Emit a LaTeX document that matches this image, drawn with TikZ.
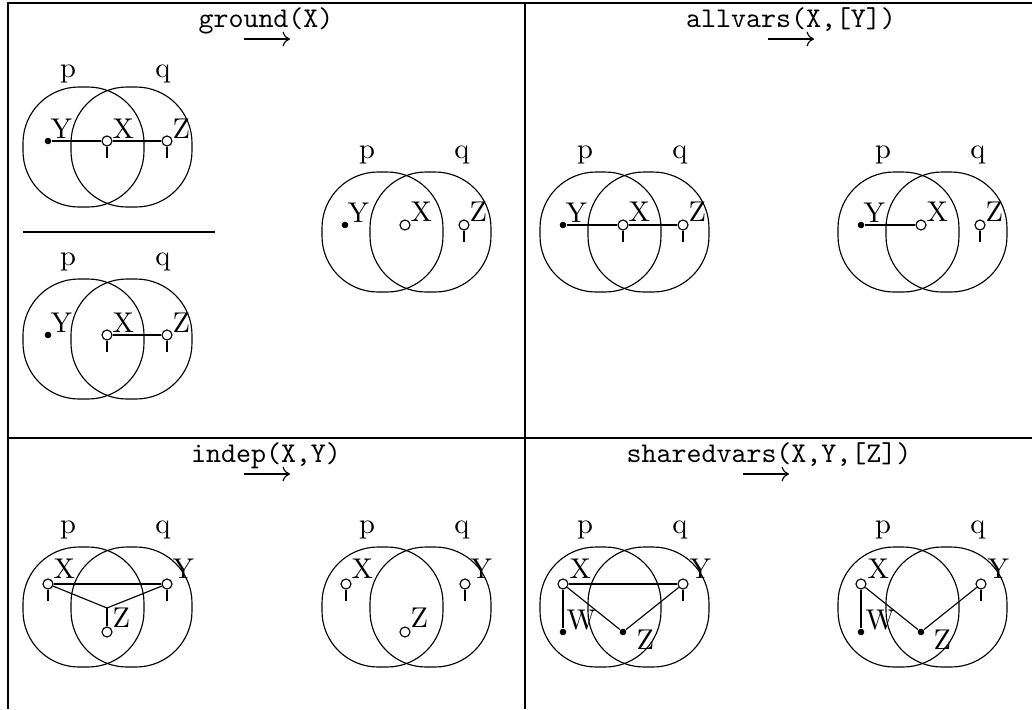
\documentclass[tikz,border=0pt]{standalone}
\usetikzlibrary{calc,arrows.meta}
\tikzset{
  setshape/.style={draw, rounded corners=19.6pt},
  opn/.style={circle, draw, fill=white, inner sep=0pt, minimum size=3.5pt},
  fil/.style={circle, fill=black, inner sep=0pt, minimum size=2.3pt},
  lbl/.style={anchor=base west, inner sep=0pt},
  setlbl/.style={anchor=base, inner sep=0pt},
  ttl/.style={anchor=base, inner sep=0pt, font=\ttfamily},
  ruleto/.style={-{Computer Modern Rightarrow[length=2.6pt,width=5.2pt]}},
  frame/.style={draw, line width=0.4pt},
}
% #1 prefix, #2 left, #3 top, #4 label gap
\newcommand\vennpair[4]{%
  \draw[setshape] (#2,#3) rectangle ++(121,120);
  \draw[setshape] (#2+48,#3) rectangle ++(121,120);
  \node[setlbl] (#1p) at (#2+45,#3-#4) {p};
  \node[setlbl] (#1q) at (#2+140,#3-#4) {q};
}
\newcommand\tailof[1]{\draw (#1.south) -- ++(0,11.5);}
% #1 name, #2 centre x, #3 y
\newcommand\rulearrow[3]{%
  \coordinate (#1s) at (#2-23,#3);
  \coordinate (#1e) at (#2+23,#3);
  \draw[ruleto] (#1s) -- (#1e);
}
\begin{document}
\begin{tikzpicture}[x=0.35pt,y=-0.35pt]
\useasboundingbox (0,0) rectangle (1032,709);
% frame
\draw[frame] (8,709) -- (8,3) -- (1032,3);
\draw[frame] (525,3) -- (525,709);
\draw[frame] (8,438) -- (1032,438);
% titles
\node[ttl] (t1) at (266,27) {ground(X)};
\rulearrow{t1a}{267}{39}
\node[ttl] (t2) at (791,27) {allvars(X,[Y])};
\rulearrow{t2a}{791}{39}
\node[ttl] (t3) at (266,462) {indep(X,Y)};
\rulearrow{t3a}{267}{474}
\node[ttl] (t4) at (769,462) {sharedvars(X,Y,[Z])};
\rulearrow{t4a}{766}{474}

% ---- diagram a (ground, premise 1)
\vennpair{a}{23}{87}{10}
\node[fil] (aY) at (48,141) {};
\node[opn] (aX) at (107,141) {};
\node[opn] (aZ) at (167,141) {};
\tailof{aX}\tailof{aZ}
\draw (aY) -- (aX); \draw (aX) -- (aZ);
\node[lbl] (aYl) at ($(aY)+(2,-3)$) {Y};
\node[lbl] (aXl) at ($(aX)+(5,-3)$) {X};
\node[lbl] (aZl) at ($(aZ)+(5,-3)$) {Z};
% separator
\draw (23,232) -- (215,232);
% ---- diagram b (ground, premise 2)
\vennpair{b}{23}{279}{14}
\node[fil] (bY) at (48,335) {};
\node[opn] (bX) at (107,335) {};
\node[opn] (bZ) at (167,335) {};
\tailof{bX}\tailof{bZ}
\draw (bX) -- (bZ);
\node[lbl] (bYl) at ($(bY)+(2,-3)$) {Y};
\node[lbl] (bXl) at ($(bX)+(5,-3)$) {X};
\node[lbl] (bZl) at ($(bZ)+(5,-3)$) {Z};
% ---- diagram c (ground, result)
\vennpair{c}{322}{172}{14}
\node[fil] (cY) at (345,225) {};
\node[opn] (cX) at (405,225) {};
\node[opn] (cZ) at (464,225) {};
\tailof{cZ}
\node[lbl] (cYl) at ($(cY)+(2,-3)$) {Y};
\node[lbl] (cXl) at ($(cX)+(5,-4)$) {X};
\node[lbl] (cZl) at ($(cZ)+(5,-4)$) {Z};
% ---- diagram d (allvars, before)
\vennpair{d}{540}{172}{14}
\node[fil] (dY) at (563,225) {};
\node[opn] (dX) at (623,225) {};
\node[opn] (dZ) at (683,225) {};
\tailof{dX}\tailof{dZ}
\draw (dY) -- (dX); \draw (dX) -- (dZ);
\node[lbl] (dYl) at ($(dY)+(2,-3)$) {Y};
\node[lbl] (dXl) at ($(dX)+(5,-4)$) {X};
\node[lbl] (dZl) at ($(dZ)+(5,-4)$) {Z};
% ---- diagram e (allvars, after)
\vennpair{e}{838}{172}{14}
\node[fil] (eY) at (861,225) {};
\node[opn] (eX) at (921,225) {};
\node[opn] (eZ) at (980,225) {};
\tailof{eZ}
\draw (eY) -- (eX);
\node[lbl] (eYl) at ($(eY)+(2,-3)$) {Y};
\node[lbl] (eXl) at ($(eX)+(5,-4)$) {X};
\node[lbl] (eZl) at ($(eZ)+(5,-4)$) {Z};

% ---- diagram f (indep, before)
\vennpair{f}{23}{547}{14}
\node[opn] (fX) at (48,584) {};
\node[opn] (fY) at (167,584) {};
\node[opn] (fZ) at (107,632) {};
\coordinate (fm) at (107,608);
\tailof{fX}\tailof{fY}
\draw (fX) -- (fY);
\draw (fX) -- (fm); \draw (fY) -- (fm); \draw (fm) -- (fZ);
\node[lbl] (fXl) at ($(fX)+(5,-6)$) {X};
\node[lbl] (fYl) at ($(fY)+(5,-6)$) {Y};
\node[lbl] (fZl) at ($(fZ)+(5,-5)$) {Z};
% ---- diagram g (indep, after)
\vennpair{g}{322}{547}{14}
\node[opn] (gX) at (346,584) {};
\node[opn] (gY) at (465,584) {};
\node[opn] (gZ) at (405,632) {};
\tailof{gX}\tailof{gY}
\node[lbl] (gXl) at ($(gX)+(5,-6)$) {X};
\node[lbl] (gYl) at ($(gY)+(5,-6)$) {Y};
\node[lbl] (gZl) at ($(gZ)+(5,-5)$) {Z};
% ---- diagram h (sharedvars, before)
\vennpair{h}{540}{547}{14}
\node[opn] (hX) at (563,584) {};
\node[opn] (hY) at (683,584) {};
\node[fil] (hW) at (563,632) {};
\node[fil] (hZ) at (623,632) {};
\tailof{hY}
\draw (hX) -- (hY);
\draw (hX) -- (hW);
\draw (hX) -- (hZ);
\draw (hY) -- (hZ);
\node[lbl] (hXl) at ($(hX)+(6,-6)$) {X};
\node[lbl] (hYl) at ($(hY)+(6,-6)$) {Y};
\node[lbl] (hWl) at ($(hW)+(3,-3)$) {W};
\node[lbl] (hZl) at ($(hZ)+(13,17)$) {Z};
% ---- diagram i (sharedvars, after)
\vennpair{i}{838}{547}{14}
\node[opn] (iX) at (861,584) {};
\node[opn] (iY) at (981,584) {};
\node[fil] (iW) at (861,632) {};
\node[fil] (iZ) at (921,632) {};
\tailof{iY}
\draw (iX) -- (iW);
\draw (iX) -- (iZ);
\draw (iY) -- (iZ);
\node[lbl] (iXl) at ($(iX)+(6,-6)$) {X};
\node[lbl] (iYl) at ($(iY)+(6,-6)$) {Y};
\node[lbl] (iWl) at ($(iW)+(4,-3)$) {W};
\node[lbl] (iZl) at ($(iZ)+(12,17)$) {Z};
\end{tikzpicture}
\end{document}
